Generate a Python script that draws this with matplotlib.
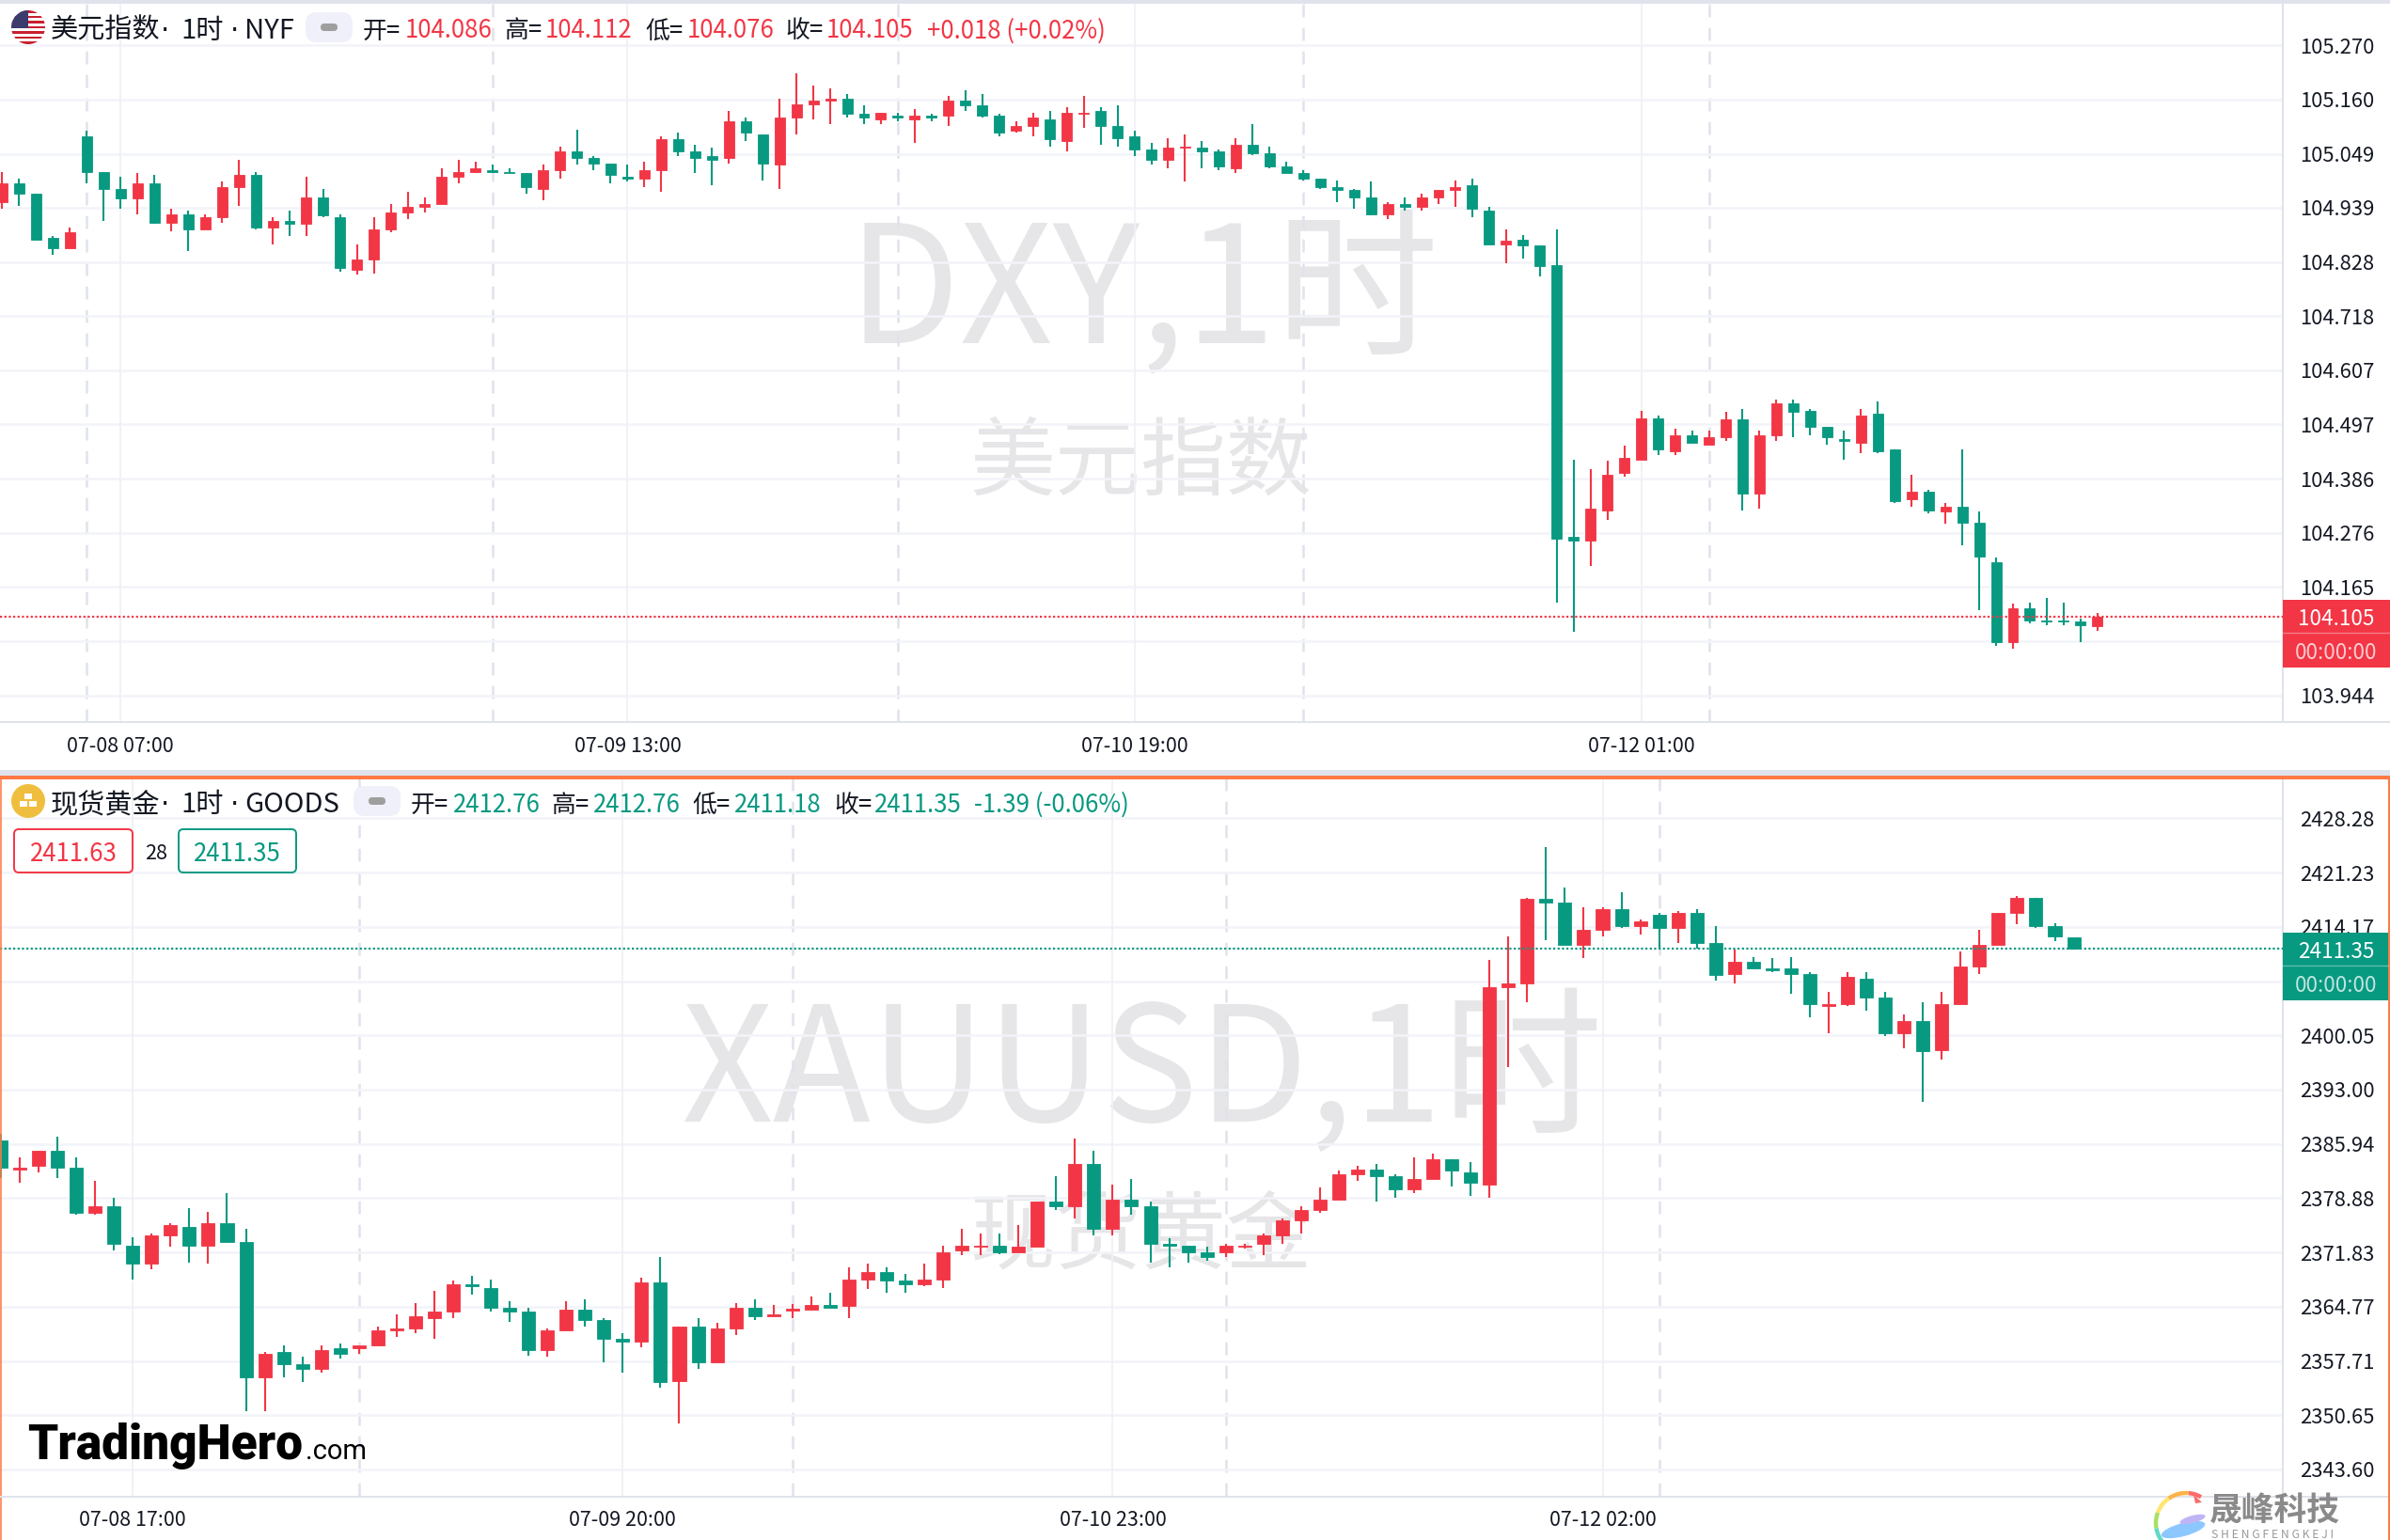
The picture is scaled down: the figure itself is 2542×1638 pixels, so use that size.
import matplotlib
matplotlib.use('Agg')
import matplotlib.pyplot as plt
from matplotlib.patches import Rectangle, Circle, FancyBboxPatch, Arc, Polygon, Ellipse

plt.rcParams['font.family'] = ['Noto Sans CJK SC', 'DejaVu Sans']

W, H = 2542, 1638
RED = '#F23645'
GREEN = '#089981'
GRID = '#F3F4F9'
BORDER = '#E0E3EB'
ORANGE = '#FF7A45'
MARK = '#E6E6E8'

# DXY, 1h candles
dxy_open = [104.950, 104.989, 104.967, 104.877, 104.856, 105.085, 105.012, 104.977, 104.958, 104.989,
            104.908, 104.925, 104.895, 104.919, 104.981, 105.006, 104.898, 104.912, 104.906, 104.960,
            104.919, 104.812, 104.833, 104.895, 104.929, 104.941, 104.946, 105.002, 105.012, 105.015,
            105.012, 105.010, 104.977, 105.015, 105.054, 105.040, 105.029, 105.002, 104.998, 105.015,
            105.079, 105.054, 105.044, 105.040, 105.115, 105.088, 105.027, 105.123, 105.150, 105.158,
            105.161, 105.131, 105.119, 105.127, 105.119, 105.127, 105.127, 105.158, 105.148, 105.127,
            105.096, 105.106, 105.119, 105.075, 105.131, 105.136, 105.106, 105.085, 105.058, 105.037,
            105.062, 105.062, 105.054, 105.019, 105.067, 105.050, 105.023, 105.010, 104.998, 104.981,
            104.975, 104.960, 104.925, 104.946, 104.941, 104.960, 104.975, 104.985, 104.933, 104.864,
            104.873, 104.863, 104.821, 104.267, 104.259, 104.321, 104.397, 104.424, 104.510, 104.441,
            104.475, 104.456, 104.470, 104.508, 104.355, 104.475, 104.539, 104.525, 104.491, 104.466,
            104.459, 104.518, 104.445, 104.345, 104.359, 104.319, 104.328, 104.297, 104.215, 104.052,
            104.121, 104.096, 104.096, 104.094, 104.086]
dxy_high = [105.012, 104.998, 104.967, 104.881, 104.898, 105.096, 105.012, 105.002, 105.010, 105.006,
            104.937, 104.933, 104.925, 104.992, 105.037, 105.012, 104.919, 104.933, 105.002, 104.977,
            104.925, 104.864, 104.919, 104.946, 104.971, 104.960, 105.019, 105.037, 105.033, 105.027,
            105.019, 105.010, 105.027, 105.063, 105.098, 105.044, 105.029, 105.027, 105.033, 105.085,
            105.092, 105.067, 105.062, 105.136, 105.123, 105.088, 105.161, 105.213, 105.188, 105.183,
            105.171, 105.148, 105.133, 105.133, 105.140, 105.131, 105.167, 105.179, 105.171, 105.131,
            105.115, 105.133, 105.136, 105.144, 105.167, 105.144, 105.148, 105.096, 105.071, 105.081,
            105.088, 105.075, 105.058, 105.081, 105.110, 105.063, 105.033, 105.015, 104.998, 104.994,
            104.977, 104.992, 104.950, 104.960, 104.967, 104.975, 104.994, 104.998, 104.941, 104.895,
            104.884, 104.863, 104.894, 104.424, 104.405, 104.422, 104.453, 104.525, 104.514, 104.488,
            104.484, 104.484, 104.522, 104.528, 104.484, 104.548, 104.548, 104.528, 104.491, 104.484,
            104.528, 104.544, 104.445, 104.394, 104.363, 104.337, 104.445, 104.319, 104.225, 104.131,
            104.134, 104.142, 104.134, 104.100, 104.112]
dxy_low = [104.937, 104.943, 104.873, 104.843, 104.856, 104.989, 104.912, 104.937, 104.925, 104.906,
           104.891, 104.850, 104.895, 104.908, 104.943, 104.895, 104.864, 104.881, 104.881, 104.919,
           104.808, 104.803, 104.804, 104.889, 104.916, 104.929, 104.946, 104.989, 105.010, 105.010,
           105.010, 104.967, 104.954, 104.998, 105.027, 105.015, 104.989, 104.992, 104.981, 104.971,
           105.044, 105.010, 104.985, 105.029, 105.075, 104.994, 104.977, 105.088, 105.119, 105.110,
           105.123, 105.110, 105.110, 105.115, 105.071, 105.115, 105.106, 105.136, 105.123, 105.085,
           105.092, 105.085, 105.063, 105.054, 105.102, 105.067, 105.063, 105.044, 105.027, 105.019,
           104.992, 105.019, 105.015, 105.010, 105.046, 105.019, 105.010, 104.994, 104.977, 104.950,
           104.937, 104.923, 104.916, 104.933, 104.933, 104.946, 104.941, 104.919, 104.864, 104.825,
           104.836, 104.798, 104.134, 104.073, 104.207, 104.301, 104.390, 104.424, 104.435, 104.435,
           104.459, 104.456, 104.463, 104.321, 104.325, 104.463, 104.470, 104.474, 104.456, 104.424,
           104.439, 104.439, 104.337, 104.328, 104.315, 104.294, 104.250, 104.117, 104.044, 104.039,
           104.090, 104.087, 104.087, 104.052, 104.076]
dxy_close = [104.989, 104.967, 104.873, 104.856, 104.889, 105.012, 104.977, 104.958, 104.989, 104.908,
             104.925, 104.895, 104.919, 104.981, 105.006, 104.898, 104.912, 104.906, 104.960, 104.923,
             104.816, 104.833, 104.895, 104.929, 104.941, 104.946, 105.002, 105.012, 105.019, 105.012,
             105.010, 104.981, 105.015, 105.054, 105.040, 105.029, 105.006, 104.998, 105.015, 105.079,
             105.054, 105.040, 105.037, 105.115, 105.092, 105.029, 105.123, 105.150, 105.158, 105.161,
             105.131, 105.123, 105.133, 105.123, 105.127, 105.123, 105.158, 105.148, 105.127, 105.092,
             105.106, 105.123, 105.079, 105.133, 105.133, 105.106, 105.081, 105.058, 105.037, 105.062,
             105.063, 105.054, 105.023, 105.067, 105.050, 105.023, 105.010, 104.998, 104.981, 104.975,
             104.960, 104.925, 104.946, 104.941, 104.960, 104.975, 104.981, 104.937, 104.864, 104.871,
             104.863, 104.819, 104.264, 104.259, 104.325, 104.394, 104.428, 104.510, 104.445, 104.475,
             104.459, 104.470, 104.508, 104.355, 104.475, 104.539, 104.522, 104.491, 104.470, 104.463,
             104.514, 104.441, 104.341, 104.359, 104.321, 104.328, 104.297, 104.228, 104.052, 104.121,
             104.096, 104.094, 104.094, 104.087, 104.105]
dxy_ticks = [105.270, 105.160, 105.049, 104.939, 104.828, 104.718, 104.607, 104.497, 104.386, 104.276,
             104.165, 104.055, 103.944]
dxy_hidden_ticks = [104.055]  # sits behind the price tag
dxy_last = 104.105
dxy_labels = ['07-08 07:00', '07-09 13:00', '07-10 19:00', '07-12 01:00']
dxy_label_bars = [7, 37, 67, 97]
dxy_session_bars = [5, 29, 53, 77, 101]

# XAUUSD, 1h candles
gold_open = [2386.39, 2382.60, 2383.09, 2385.04, 2382.84, 2376.97, 2377.83, 2372.70, 2370.37, 2374.04,
             2375.14, 2372.70, 2375.63, 2373.19, 2355.58, 2358.88, 2357.29, 2356.68, 2359.37, 2359.37,
             2359.74, 2361.69, 2361.94, 2363.28, 2364.14, 2367.68, 2367.19, 2364.63, 2364.14, 2359.13,
             2361.69, 2364.38, 2363.04, 2360.59, 2360.23, 2367.93, 2355.09, 2362.18, 2357.54, 2361.94,
             2364.63, 2363.53, 2364.26, 2364.38, 2364.99, 2364.87, 2368.30, 2369.27, 2368.17, 2367.68,
             2368.30, 2372.08, 2372.57, 2372.70, 2371.84, 2372.57, 2378.44, 2377.83, 2383.33, 2374.90,
             2378.69, 2377.83, 2372.94, 2372.70, 2371.84, 2371.84, 2372.57, 2372.94, 2374.04, 2376.00,
             2377.34, 2378.69, 2381.99, 2382.60, 2381.74, 2380.03, 2381.38, 2383.94, 2382.23, 2380.64,
             2406.28, 2406.76, 2417.77, 2417.28, 2411.78, 2413.73, 2416.42, 2414.22, 2415.69, 2413.98,
             2415.93, 2412.02, 2407.99, 2409.58, 2408.72, 2408.72, 2407.99, 2403.83, 2404.07, 2407.38,
             2404.93, 2400.28, 2401.87, 2398.08, 2404.07, 2408.96, 2411.78, 2415.93, 2417.89, 2414.22,
             2412.76]
gold_high = [2387.24, 2384.19, 2385.04, 2386.88, 2384.19, 2381.13, 2378.93, 2373.80, 2374.29, 2375.63,
             2377.59, 2377.10, 2379.54, 2374.90, 2358.88, 2359.74, 2358.27, 2359.74, 2359.98, 2359.74,
             2362.18, 2363.77, 2365.24, 2366.83, 2368.17, 2368.78, 2368.30, 2365.48, 2364.63, 2361.94,
             2365.48, 2365.73, 2363.28, 2361.33, 2368.54, 2371.23, 2362.18, 2363.28, 2362.67, 2365.24,
             2365.73, 2364.99, 2365.12, 2366.09, 2366.58, 2369.88, 2370.37, 2369.88, 2369.03, 2370.37,
             2372.70, 2374.90, 2374.29, 2374.29, 2375.39, 2378.44, 2381.74, 2386.63, 2385.04, 2380.64,
             2381.38, 2378.44, 2373.67, 2372.70, 2372.57, 2372.94, 2372.94, 2374.29, 2376.24, 2377.83,
             2380.28, 2382.48, 2383.09, 2383.33, 2381.99, 2384.19, 2384.68, 2383.94, 2383.58, 2409.82,
             2412.88, 2417.89, 2424.49, 2419.23, 2416.67, 2416.67, 2418.62, 2415.08, 2415.93, 2416.18,
             2416.42, 2414.22, 2411.17, 2410.19, 2410.06, 2410.19, 2408.23, 2405.66, 2408.23, 2408.23,
             2405.66, 2402.73, 2404.32, 2405.66, 2410.92, 2413.73, 2415.93, 2418.13, 2417.89, 2414.59,
             2412.76]
gold_low = [2381.54, 2380.89, 2382.23, 2381.54, 2376.73, 2376.73, 2372.08, 2368.30, 2369.64, 2372.57,
            2370.50, 2370.37, 2373.19, 2351.18, 2351.18, 2355.58, 2354.97, 2356.19, 2358.03, 2358.64,
            2359.74, 2360.84, 2361.33, 2360.59, 2363.28, 2366.34, 2364.14, 2362.79, 2358.39, 2358.27,
            2361.69, 2362.18, 2357.54, 2356.19, 2359.49, 2354.24, 2349.59, 2356.68, 2357.54, 2361.08,
            2363.04, 2363.53, 2363.28, 2364.38, 2364.63, 2363.28, 2367.07, 2366.58, 2366.58, 2367.44,
            2367.19, 2371.47, 2371.47, 2371.60, 2371.84, 2372.57, 2377.34, 2376.24, 2374.04, 2374.04,
            2376.73, 2370.50, 2369.88, 2370.50, 2370.74, 2371.23, 2372.33, 2371.47, 2372.94, 2374.29,
            2376.97, 2378.69, 2381.13, 2378.44, 2378.93, 2379.54, 2381.38, 2380.40, 2379.18, 2378.93,
            2395.88, 2404.32, 2412.39, 2411.78, 2410.06, 2412.88, 2413.98, 2413.12, 2411.29, 2412.02,
            2411.29, 2407.13, 2406.76, 2408.72, 2408.23, 2405.42, 2402.36, 2400.28, 2403.83, 2403.22,
            2399.92, 2398.33, 2391.36, 2396.86, 2404.07, 2407.99, 2411.78, 2414.47, 2413.98, 2412.27,
            2411.18]
gold_close = [2382.84, 2382.84, 2385.04, 2382.84, 2376.97, 2377.83, 2372.94, 2370.37, 2374.04, 2375.39,
              2372.70, 2375.63, 2373.19, 2355.58, 2358.64, 2357.29, 2356.68, 2359.13, 2358.64, 2359.74,
              2361.69, 2361.94, 2363.53, 2364.14, 2367.68, 2367.44, 2364.63, 2364.14, 2359.13, 2361.69,
              2364.38, 2363.04, 2360.59, 2360.23, 2367.93, 2354.97, 2362.18, 2357.54, 2361.94, 2364.63,
              2363.53, 2363.77, 2364.51, 2364.99, 2364.63, 2368.30, 2369.27, 2368.17, 2367.68, 2368.30,
              2371.84, 2372.70, 2372.70, 2371.84, 2372.57, 2378.44, 2377.83, 2383.33, 2374.90, 2378.69,
              2377.83, 2372.94, 2372.70, 2371.84, 2371.23, 2372.70, 2372.70, 2374.04, 2376.00, 2377.34,
              2378.69, 2381.99, 2382.60, 2381.74, 2380.03, 2381.38, 2383.94, 2382.48, 2380.89, 2406.28,
              2406.76, 2417.77, 2417.28, 2411.78, 2413.73, 2416.42, 2414.22, 2414.83, 2413.98, 2415.93,
              2412.02, 2407.86, 2409.58, 2408.72, 2408.48, 2407.99, 2404.07, 2404.07, 2407.62, 2404.93,
              2400.28, 2401.87, 2397.96, 2404.07, 2408.96, 2411.78, 2415.93, 2417.89, 2414.22, 2412.88,
              2411.35]
gold_ticks = [2428.28, 2421.23, 2414.17, 2407.11, 2400.05, 2393.00, 2385.94, 2378.88, 2371.83, 2364.77,
              2357.71, 2350.65, 2343.60]
gold_hidden_ticks = [2407.11]  # sits behind the price tag
gold_last = 2411.35
gold_labels = ['07-08 17:00', '07-09 20:00', '07-10 23:00', '07-12 02:00']
gold_label_bars = [7, 33, 59, 85]
gold_session_bars = [19, 42, 65, 88]


def make_axes(top, bottom, zorder):
    # axes placed by pixel rows of the picture, right edge at the price scale
    ax = fig.add_axes([0, 1 - bottom / H, 2428 / W, (bottom - top) / H], zorder=zorder)
    ax.patch.set_alpha(0)
    return ax


def draw_panel(ax, o, h, l, c, ticks, hidden, fmt, last, labels, label_bars, session_bars, body, line_color):
    for b in session_bars:
        ax.axvline(b, color=BORDER, lw=1.8, linestyle=(0, (5.5, 4.5)), zorder=1)
    for t in ticks:
        ax.axhline(t, color=GRID, lw=1.8, zorder=1)
    for b in label_bars:
        ax.axvline(b, color='#F0F1F7', lw=1.3, zorder=1)

    x = list(range(len(o)))
    colors = [RED if c[i] >= o[i] else GREEN for i in x]
    ax.vlines(x, l, h, colors=colors, lw=1.5, zorder=2)
    bottoms = [min(o[i], c[i]) for i in x]
    heights = [abs(c[i] - o[i]) for i in x]
    ax.bar(x, heights, bottom=bottoms, width=body, color=colors, edgecolor=colors, lw=0.6, zorder=3)
    ax.axhline(last, color=line_color, lw=1.6, linestyle=(0, (1, 1.1)), zorder=4)

    ax.yaxis.tick_right()
    ax.set_yticks(ticks)
    ax.set_yticklabels(['' if t in hidden else fmt % t for t in ticks], fontsize=15.8, color='#131722')
    ax.set_xticks(label_bars)
    ax.set_xticklabels(labels, fontsize=15.5, color='#131722')
    ax.tick_params(axis='y', length=0, pad=13.2)
    ax.tick_params(axis='x', length=0, pad=11)
    for side in ['top', 'left', 'bottom']:
        ax.spines[side].set_visible(False)
    ax.spines['right'].set_color(BORDER)
    ax.spines['right'].set_linewidth(1.5)


fig = plt.figure(figsize=(W / 100, H / 100), dpi=100, facecolor='white')

# background layer: big symbol watermarks
bg = fig.add_axes([0, 0, 1, 1], zorder=0)
bg.set_xlim(0, W)
bg.set_ylim(H, 0)
bg.axis('off')
bg.text(1216, 316, 'DXY,1时', fontsize=125, color=MARK, ha='center', va='center')
bg.text(1213, 494, '美元指数', fontsize=65.5, color=MARK, ha='center', va='center')
bg.text(1214, 1144, 'XAUUSD,1时', fontsize=123, color=MARK, ha='center', va='center')
bg.text(1213, 1316, '现货黄金', fontsize=65.5, color=MARK, ha='center', va='center')

# the two price panels
ax1 = make_axes(0, 768, 1)
ax1.set_xlim(-0.139, 134.97)
ax1.set_ylim(103.8895, 105.3627)
draw_panel(ax1, dxy_open, dxy_high, dxy_low, dxy_close, dxy_ticks, dxy_hidden_ticks, '%.3f', dxy_last,
           dxy_labels, dxy_label_bars, dxy_session_bars, 0.61, RED)

ax2 = make_axes(828, 1591, 1)
ax2.set_xlim(-0.05, 121.1)
ax2.set_ylim(2340.17, 2433.47)
draw_panel(ax2, gold_open, gold_high, gold_low, gold_close, gold_ticks, gold_hidden_ticks, '%.2f', gold_last,
           gold_labels, gold_label_bars, gold_session_bars, 0.70, GREEN)

# top layer: legends, price tags, frame, logos
fg = fig.add_axes([0, 0, 1, 1], zorder=5)
fg.set_xlim(0, W)
fg.set_ylim(H, 0)
fg.axis('off')

# frame lines
fg.add_patch(Rectangle((0, 0), W, 3.5, color=BORDER, lw=0))
fg.add_patch(Rectangle((0, 767), W, 2.2, color=BORDER, lw=0))
fg.add_patch(Rectangle((0, 819), W, 6, color=BORDER, lw=0))
fg.add_patch(Rectangle((0, 825), W, 3.5, color=ORANGE, lw=0))
fg.add_patch(Rectangle((0, 825), 1.6, H - 825, color=ORANGE, lw=0, alpha=0.8))
fg.add_patch(Rectangle((W - 2.5, 825), 2.5, H - 825, color=ORANGE, lw=0))
fg.add_patch(Rectangle((0, 1590.5), W - 2.5, 2.2, color=BORDER, lw=0))


def price_tag(top, mid, bottom, right, color, price):
    # price and countdown box on the scale
    fg.add_patch(Rectangle((2428, top), right - 2428, bottom - top, color=color, lw=0))
    fg.plot([2428, right], [mid, mid], color='white', alpha=0.35, lw=1)
    fg.text(2485, (top + mid) / 2 + 3, price, fontsize=16.2, color='white', ha='center', va='center')
    fg.text(2485, (mid + bottom) / 2 + 3, '00:00:00', fontsize=16.2, color='white', alpha=0.75, ha='center', va='center')


price_tag(638, 673, 710, W, RED, '%.3f' % dxy_last)
price_tag(992, 1027, 1064, W - 2.5, GREEN, '%.2f' % gold_last)


def legend_row(y, name, interval_x, source, source_x, chip_x, items, change, change_x, color):
    ty = y + 4
    fg.text(54, ty, name, fontsize=21, color='#131722', ha='left', va='center')
    fg.text(176, ty, '·', fontsize=21, family='DejaVu Sans', color='#131722', ha='center', va='center')
    fg.text(interval_x, ty, '1时', fontsize=21, color='#131722', ha='left', va='center')
    fg.text(249, ty, '·', fontsize=21, family='DejaVu Sans', color='#131722', ha='center', va='center')
    fg.text(source_x, ty, source, fontsize=21, color='#131722', ha='left', va='center')
    fg.add_patch(FancyBboxPatch((chip_x + 6, y - 10), 38, 20, boxstyle='round,pad=6,rounding_size=12', color='#F0F0FA', lw=0))
    fg.add_patch(FancyBboxPatch((chip_x + 16, y - 4), 18, 8, boxstyle='round,pad=0,rounding_size=4', color='#9E9E9E', lw=0))
    for label, label_x, value, value_x in items:
        fg.text(label_x, ty, label, fontsize=18.6, color='#131722', ha='left', va='center')
        fg.text(value_x, ty, value, fontsize=18.6, color=color, ha='left', va='center')
    fg.text(change_x, ty, change, fontsize=18.6, color=color, ha='left', va='center')


legend_row(29, '美元指数', 192, 'NYF', 260, 325,
           [('开=', 386, '104.086', 431), ('高=', 536, '104.112', 580),
            ('低=', 686, '104.076', 731), ('收=', 835, '104.105', 879)],
           '+0.018 (+0.02%)', 986, RED)
legend_row(852, '现货黄金', 192, 'GOODS', 260, 376,
           [('开=', 437, '2412.76', 482), ('高=', 587, '2412.76', 631),
            ('低=', 736, '2411.18', 781), ('收=', 887, '2411.35', 930)],
           '-1.39 (-0.06%)', 1036, GREEN)

# flag icon
flag = Circle((30, 29), 18, transform=fg.transData)
for i in range(13):
    s = Rectangle((12, 11 + i * 36 / 13), 36, 36 / 13, color='#C8202F' if i % 2 == 0 else 'white', lw=0)
    fg.add_patch(s)
    s.set_clip_path(flag)
canton = Rectangle((12, 11), 18, 19, color='#3C3B6E', lw=0)
fg.add_patch(canton)
canton.set_clip_path(flag)

# gold icon
fg.add_patch(Circle((30, 852), 18, color='#F0BE3F', lw=0))
for bx, by in [(26, 844), (21, 852), (31, 852)]:
    fg.add_patch(Rectangle((bx, by), 8, 6, color='white', lw=0))

# bid / ask boxes
fg.add_patch(FancyBboxPatch((15, 882), 126, 46, boxstyle='round,pad=0,rounding_size=5', fc='white', ec=RED, lw=1.4))
fg.text(78, 909, '2411.63', fontsize=18.6, color=RED, ha='center', va='center')
fg.text(166, 908, '28', fontsize=15.5, color='#131722', ha='center', va='center')
fg.add_patch(FancyBboxPatch((190, 882), 125, 46, boxstyle='round,pad=0,rounding_size=5', fc='white', ec=GREEN, lw=1.4))
fg.text(252, 909, '2411.35', fontsize=18.6, color=GREEN, ha='center', va='center')

# TradingHero logo
fg.text(29, 1552, 'TradingHero', fontsize=37, fontweight=900, family='Roboto', color='black', ha='left', va='baseline')
fg.text(325, 1552, '.com', fontsize=21, family='Roboto', color='black', ha='left', va='baseline')

# bottom right logo
swirl = [('#FF6B6B', -85, -60), ('#FFB347', -125, -85), ('#FFE66D', -160, -125),
         ('#A8E063', -190, -160), ('#63D9C6', -225, -190), ('#6FD3F7', -255, -225)]
for c, t1, t2 in swirl:
    fg.add_patch(Arc((2325, 1620), 64, 64, theta1=t1, theta2=t2, color=c, lw=3.2))
fg.add_patch(Ellipse((2322, 1627), 48, 14, angle=-15, color='#8CC8FF', lw=0))
fg.add_patch(Ellipse((2332, 1616), 28, 8, angle=-15, color='#BFB5F5', lw=0))
fg.add_patch(Polygon([[2333, 1590], [2342, 1598], [2335, 1599]], color='#F56C6C', lw=0))
fg.text(2350, 1607, '晟峰科技', fontsize=25, fontweight='bold', color='#8A8A8A', ha='left', va='center')
fg.text(2352, 1633, 'S H E N G F E N G K E J I', fontsize=8.8, color='#9A9A9A', ha='left', va='center')

fig.savefig('out.png', dpi=100)
